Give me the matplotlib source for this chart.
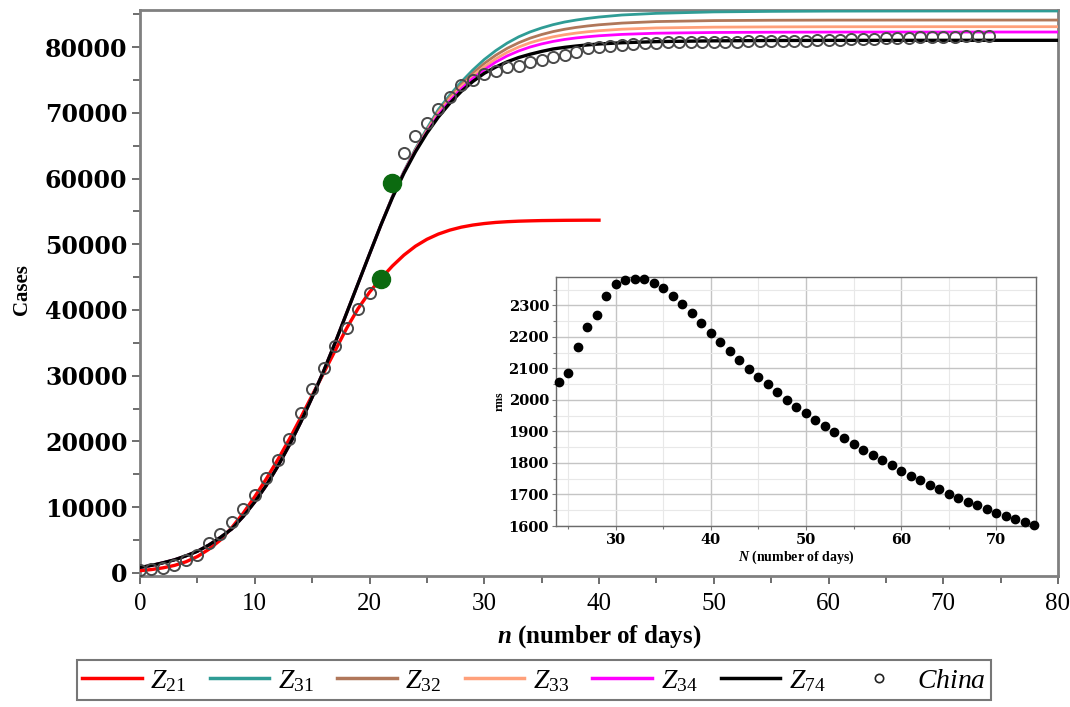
import matplotlib
matplotlib.use('Agg')
import matplotlib.pyplot as plt
from matplotlib.ticker import MultipleLocator
from matplotlib.lines import Line2D

plt.rcParams['mathtext.fontset'] = 'custom'
plt.rcParams['mathtext.rm'] = 'Liberation Serif'
plt.rcParams['mathtext.it'] = 'Liberation Serif:italic'
plt.rcParams['mathtext.bf'] = 'Liberation Serif:bold:italic'

# ---------------- data ----------------
china_days = list(range(0, 75))
china_cases = [440, 571, 830, 1287, 1975, 2744, 4515, 5974, 7711, 9692,
               11791, 14380, 17205, 20438, 24324, 28018, 31161, 34546, 37198, 40171,
               42638, 44653, 59804, 63851, 66492, 68500, 70548, 72436, 74185, 75002,
               75891, 76288, 76936, 77150, 77658, 78064, 78497, 78824, 79251, 79824,
               80026, 80151, 80270, 80409, 80552, 80651, 80695, 80735, 80754, 80778,
               80793, 80813, 80824, 80844, 80860, 80881, 80894, 80928, 80967, 81008,
               81054, 81093, 81171, 81218, 81285, 81340, 81394, 81439, 81470, 81518,
               81554, 81589, 81620, 81639, 81669]

z21_days = list(range(0, 41))
z21 = [350, 520, 780, 1150, 1700, 2500, 3600, 5000, 6900, 9100,
       11600, 14300, 17200, 20300, 23600, 27000, 30400, 33800, 37200, 40200,
       42700, 44800, 46700, 48350, 49700, 50750, 51550, 52150, 52600, 52920,
       53150, 53320, 53430, 53510, 53560, 53600, 53620, 53640, 53650, 53660, 53660]

model_days = list(range(0, 41)) + [42, 45, 50, 55, 60, 65, 70, 75, 80]
early = [850, 1150, 1550, 2000, 2600, 3300, 4250, 5400, 6700, 8600,
         10800, 13300, 16200, 19400, 22900, 26700, 30700, 35000, 39500, 44000,
         48500, 52950]
z31 = early + [57300, 61100, 64500, 67600, 70500, 72700, 74700, 76500, 78100, 79450,
               80600, 81550, 82300, 82900, 83400, 83800, 84100, 84350, 84560,
               84870, 85120, 85340, 85420, 85460, 85470, 85475, 85480, 85480]
z32 = early + [57250, 61000, 64350, 67350, 70200, 72400, 74300, 76000, 77500, 78750,
               79800, 80650, 81350, 81900, 82350, 82700, 82980, 83200, 83380,
               83640, 83870, 84020, 84070, 84090, 84095, 84100, 84100, 84100]
z33 = early + [57200, 60950, 64250, 67200, 70000, 72100, 74000, 75600, 77000, 78200,
               79200, 80000, 80650, 81150, 81550, 81870, 82120, 82320, 82480,
               82710, 82900, 83020, 83060, 83080, 83085, 83090, 83090, 83090]
z34 = early + [57150, 60900, 64150, 67050, 69700, 71800, 73650, 75200, 76550, 77700,
               78650, 79400, 80000, 80470, 80850, 81150, 81380, 81560, 81710,
               81920, 82100, 82210, 82250, 82270, 82275, 82280, 82280, 82280]
z74 = early + [57100, 60800, 64050, 66900, 69350, 71450, 73250, 74750, 76000, 76950,
               77750, 78400, 78900, 79330, 79700, 79950, 80150, 80320, 80460,
               80650, 80820, 80940, 80990, 81010, 81015, 81020, 81020, 81020]

green_days = [21, 22]
green_cases = [44700, 59300]

rms_N = list(range(24, 75))
rms = [2056, 2085, 2168, 2231, 2268, 2331, 2368, 2382, 2384, 2385,
       2372, 2355, 2331, 2304, 2275, 2243, 2212, 2183, 2155, 2126,
       2097, 2073, 2050, 2024, 2001, 1979, 1957, 1936, 1917, 1897,
       1878, 1860, 1842, 1825, 1808, 1792, 1775, 1760, 1745, 1730,
       1717, 1703, 1689, 1677, 1666, 1654, 1642, 1632, 1622, 1613, 1602]

x_ticks = [0, 10, 20, 30, 40, 50, 60, 70, 80]
y_ticks = [0, 10000, 20000, 30000, 40000, 50000, 60000, 70000, 80000]
labels = [r'$Z_{21}$', r'$Z_{31}$', r'$Z_{32}$', r'$Z_{33}$', r'$Z_{34}$', r'$Z_{74}$', r'$China$']

# ---------------- figure ----------------
W, H = 1070, 707
fig = plt.figure(figsize=(W / 100, H / 100), dpi=100)
ax = fig.add_axes([140 / W, 1 - 576 / H, (1058 - 140) / W, (576 - 10) / H])

l21, = ax.plot(z21_days, z21, color='#ff0000', lw=2.4, zorder=3)
l31, = ax.plot(model_days, z31, color='#2f9c95', lw=2.0, zorder=3)
l32, = ax.plot(model_days, z32, color='#b0775a', lw=2.0, zorder=3)
l33, = ax.plot(model_days, z33, color='#ffa07a', lw=2.0, zorder=3)
l34, = ax.plot(model_days, z34, color='#ff00ff', lw=2.0, zorder=3)
l74, = ax.plot(model_days, z74, color='#000000', lw=2.4, zorder=4)
ax.plot(china_days, china_cases, linestyle='none', marker='o', ms=8,
        mfc='none', mec='#4a4a4a', mew=1.4, zorder=5)
ax.plot(green_days, green_cases, linestyle='none', marker='o', ms=13,
        mfc='#0b6a10', mec='#0b6a10', zorder=6)

ax.set_xlim(0, 80)
ax.set_ylim(-460, 85630)
ax.set_xticks(x_ticks)
ax.set_yticks(y_ticks)
ax.xaxis.set_minor_locator(MultipleLocator(5))
ax.yaxis.set_minor_locator(MultipleLocator(5000))
for s in ax.spines.values():
    s.set_color('#808080')
    s.set_linewidth(2)
ax.tick_params(which='both', direction='out', color='#555555', width=1.2)
ax.tick_params(which='major', length=6)
ax.tick_params(which='minor', length=5)
ax.tick_params(axis='x', pad=6)
ax.tick_params(axis='y', pad=3)
ax.set_xticklabels([str(v) for v in x_ticks], fontfamily='Liberation Serif', fontsize=18)
ax.set_yticklabels([str(v) for v in y_ticks], fontfamily='DejaVu Serif', fontweight='bold', fontsize=17)
ax.set_xlabel(r'$\mathbf{n}$ (number of days)', fontfamily='Liberation Serif',
              fontweight='bold', fontsize=18, labelpad=6)
ax.set_ylabel('Cases', fontfamily='Liberation Serif', fontweight='bold', fontsize=15)
ax.yaxis.set_label_coords(-108 / 918, (576 - 290) / 566)

# ---------------- inset ----------------
ins = fig.add_axes([556 / W, 1 - 526 / H, (1036 - 556) / W, (526 - 277) / H])
ins.plot(rms_N, rms, linestyle='none', marker='o', ms=6, color='black', clip_on=False, zorder=3)
ins.set_xlim(23.7, 74.2)
ins.set_ylim(1600, 2390)
ins.xaxis.set_major_locator(MultipleLocator(10))
ins.xaxis.set_minor_locator(MultipleLocator(5))
ins.yaxis.set_major_locator(MultipleLocator(100))
ins.yaxis.set_minor_locator(MultipleLocator(50))
ins.grid(which='major', color='#c4c4c4', lw=1.0)
ins.grid(which='minor', color='#e8e8e8', lw=0.8)
ins.set_axisbelow(True)
for s in ins.spines.values():
    s.set_color('#6a6a6a')
    s.set_linewidth(1.0)
ins.tick_params(which='both', direction='out', color='#777777', width=0.8)
ins.tick_params(which='major', length=3, pad=2)
ins.tick_params(which='minor', length=2)
for t in ins.get_xticklabels() + ins.get_yticklabels():
    t.set_fontfamily('DejaVu Serif')
    t.set_fontweight('bold')
    t.set_fontsize(10.5)
ins.set_xlabel(r'$\mathbf{N}$ (number of days)', fontfamily='Liberation Serif',
               fontweight='bold', fontsize=10, labelpad=1)
ins.set_ylabel('rms', fontfamily='Liberation Serif', fontweight='bold', fontsize=8.5, labelpad=2)

# ---------------- legend ----------------
china_handle = Line2D([], [], linestyle='none', marker='o', ms=6, mfc='none', mec='#222222', mew=1.2)
handles = [l21, l31, l32, l33, l34, l74, china_handle]
leg = fig.legend(handles, labels, loc='center', bbox_to_anchor=(534 / W, 1 - 680 / H),
                 ncol=7, frameon=True, fancybox=False, fontsize=20,
                 handlelength=2.15, columnspacing=0.85, handletextpad=0.3,
                 borderpad=0.2, borderaxespad=0)
leg.get_frame().set_edgecolor('#555555')
leg.get_frame().set_linewidth(1.5)
for h in leg.legend_handles[:6]:
    h.set_linewidth(2.5)

fig.savefig('out.png', dpi=100)
